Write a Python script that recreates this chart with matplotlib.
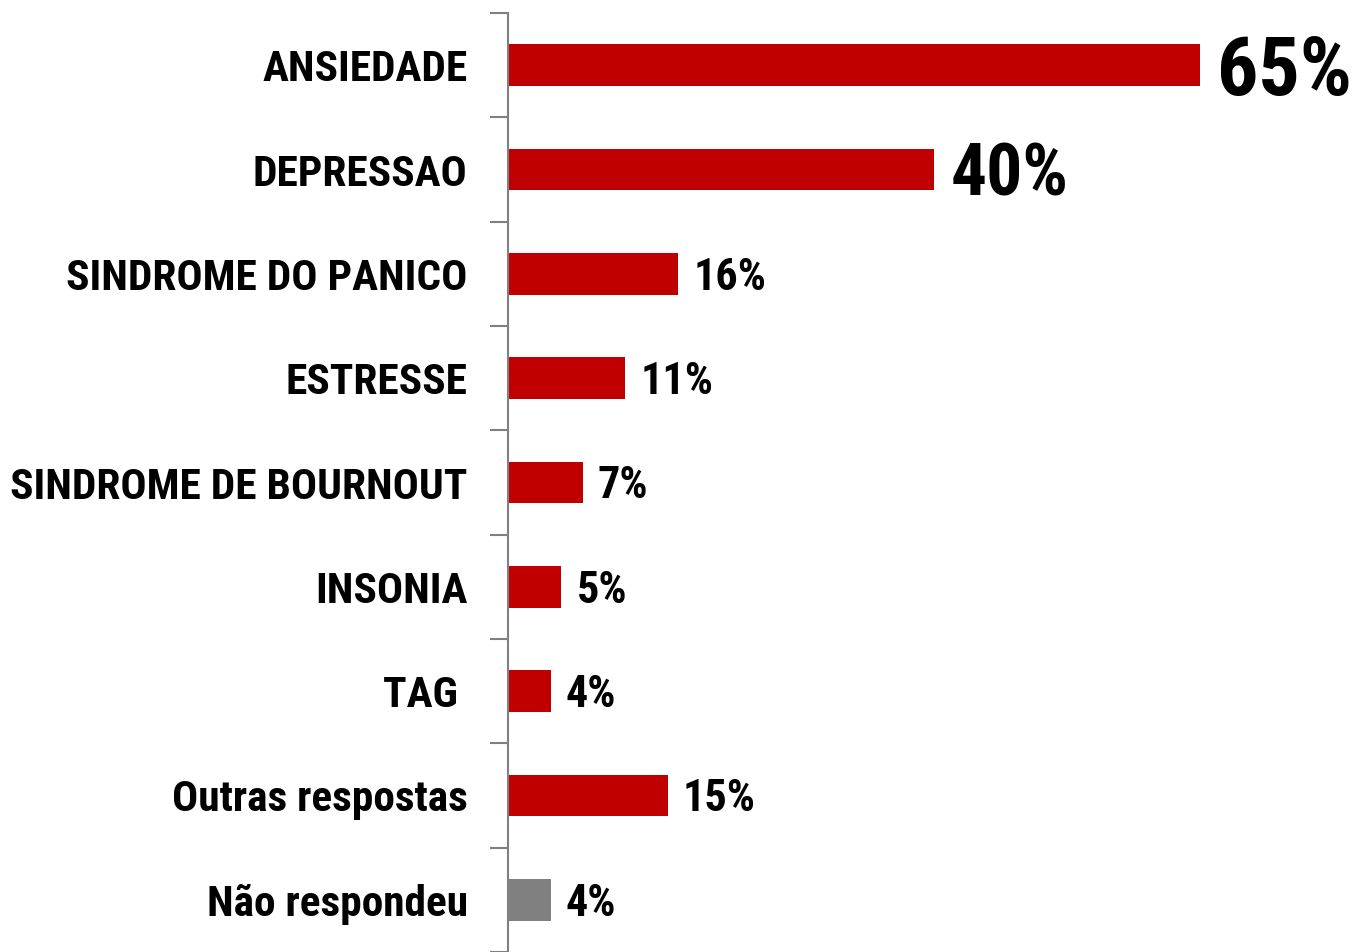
import numpy as np
import matplotlib.pyplot as plt
from matplotlib import font_manager

categories = ['ANSIEDADE', 'DEPRESSAO', 'SINDROME DO PANICO', 'ESTRESSE',
              'SINDROME DE BOURNOUT', 'INSONIA', 'TAG ', 'Outras respostas',
              'Não respondeu']
values = [65, 40, 16, 11, 7, 5, 4, 15, 4]
value_labels = ['65%', '40%', '16%', '11%', '7%', '5%', '4%', '15%', '4%']

# look for a narrow bold face (the original uses Arial Narrow Bold)
fonts = font_manager.fontManager.ttflist
names = {f.name for f in fonts}
stretch = 'normal'
fam = None
for cand in ['Liberation Sans Narrow', 'Arial Narrow', 'Roboto Condensed',
             'Open Sans Condensed', 'Noto Sans Display']:
    if cand in names:
        fam = cand
        break
if fam is None:
    if any(f.name == 'DejaVu Sans' and f.stretch == 'condensed' for f in fonts):
        fam, stretch = 'DejaVu Sans', 'condensed'
    else:
        fam = 'Liberation Sans' if 'Liberation Sans' in names else 'DejaVu Sans'
plt.rcParams['font.family'] = [fam, 'DejaVu Sans']
plt.rcParams['font.stretch'] = stretch

red = '#C00000'
grey = '#808080'
colors = [red] * 8 + [grey]

fig = plt.figure(figsize=(13.59, 9.52), dpi=100)
ax = fig.add_axes([508 / 1359, 0.0, 1 - 508 / 1359, 1 - 13 / 952])

y = np.arange(len(categories))
ax.barh(y, values, height=0.40, color=colors)
ax.set_ylim(len(categories) - 0.5, -0.5)
ax.set_xlim(0, 851 / (692 / 65))

# value labels; the two biggest get a larger font
sizes = {65: 64, 40: 55}
vtexts = []
for i, (v, lab) in enumerate(zip(values, value_labels)):
    size = sizes.get(v, 30)
    t = ax.annotate(lab, (v, i), xytext=(12, -0.36 * size),
                    textcoords='offset points', va='baseline', ha='left',
                    fontsize=size, fontweight='bold')
    vtexts.append(t)

# category labels at centers, tick marks at the boundaries
ax.set_yticks(y)
ax.set_yticklabels(categories, fontsize=27, fontweight='bold')
ax.tick_params(axis='y', which='major', length=0, pad=29)
ax.set_yticks(np.arange(len(categories) + 1) - 0.5, minor=True)
ax.tick_params(axis='y', which='minor', length=13, width=1.5, color=grey)

for s in ['top', 'right', 'bottom']:
    ax.spines[s].set_visible(False)
ax.spines['left'].set_color(grey)
ax.spines['left'].set_linewidth(1.5)
ax.set_xticks([])

# fit text widths to the original's
fig.canvas.draw()
r = fig.canvas.get_renderer()
labs = ax.get_yticklabels()
w = labs[4].get_window_extent(r).width
cs = min(27 * 456 / w, 33)
for lab in labs:
    lab.set_fontsize(cs)

targets = {0: 135, 1: 118, 2: 68}
small = None
for i, t in enumerate(vtexts):
    if i in targets:
        s0 = t.get_fontsize()
        s = s0 * targets[i] / t.get_window_extent(r).width
        if i == 2:
            small = min(s * 1.07, 34)
        else:
            t.set_fontsize(s)
            t.xyann = (12, -0.36 * s)
for i, t in enumerate(vtexts):
    if i >= 2:
        t.set_fontsize(small)
        t.xyann = (11, -0.36 * small)

plt.savefig('out.png', dpi=100)
